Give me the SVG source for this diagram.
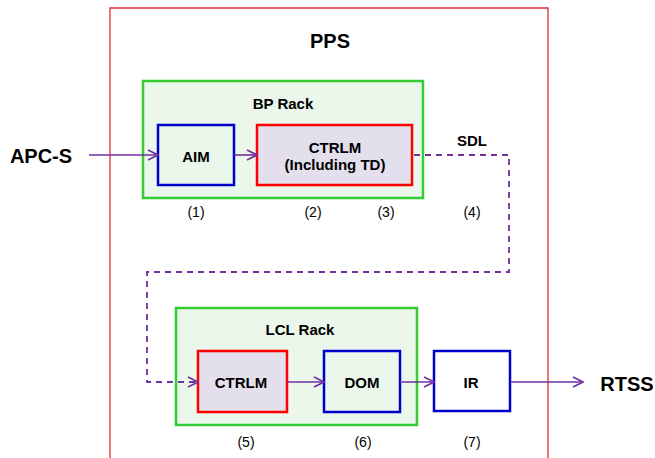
<svg xmlns="http://www.w3.org/2000/svg" width="655" height="458" viewBox="0 0 655 458">
<style>
text{font-family:"Liberation Sans",Arial,sans-serif;fill:#000;text-anchor:middle}
.b{font-weight:bold;font-size:15px}
.n{font-size:14px}
.big{font-weight:bold;font-size:20px}
.rack{fill:#EAF7EA;stroke:#33CC33;stroke-width:2.5}
.blue{fill:#EAF7EA;stroke:#0000CC;stroke-width:2.5}
.red{fill:#E4DFEC;stroke:#FF0000;stroke-width:2.5}
.c{fill:none;stroke:#7030A0;stroke-width:1.6}
.d{stroke-dasharray:6,5;stroke-width:1.8}
</style>
<defs>
<marker id="ah" viewBox="0 0 12 12" refX="11" refY="6" markerWidth="12" markerHeight="12" markerUnits="userSpaceOnUse" orient="auto">
<path d="M1,1 L11,6 L1,11" fill="none" stroke="#7030A0" stroke-width="1.6"/>
</marker>
</defs>
<rect width="655" height="458" fill="#fff"/>
<g id="pps">
<path d="M110,470 V8 H548 V470" fill="none" stroke="#E03030" stroke-width="1.3"/>
<text x="330" y="48" class="big">PPS</text>
</g>
<g id="bp-rack">
<rect class="rack" x="143" y="81" width="280" height="117"/>
<text class="b" x="283" y="109">BP Rack</text>
</g>
<g id="aim">
<rect class="blue" x="158" y="125" width="76" height="60"/>
<text class="b" x="196" y="162">AIM</text>
</g>
<g id="ctrlm1">
<rect class="red" x="257" y="125" width="155" height="60"/>
<text class="b" x="335" y="153">CTRLM</text>
<text class="b" x="335" y="170">(Including TD)</text>
</g>
<g id="lcl-rack">
<rect class="rack" x="176" y="308" width="241" height="117"/>
<text class="b" x="300" y="335">LCL Rack</text>
</g>
<g id="ctrlm2">
<rect class="red" x="198" y="351" width="89" height="61"/>
<text class="b" x="241" y="388">CTRLM</text>
</g>
<g id="dom">
<rect class="blue" x="324" y="351" width="76" height="61"/>
<text class="b" x="362" y="388">DOM</text>
</g>
<g id="ir">
<rect x="434" y="351" width="76" height="60" fill="#fff" stroke="#0000CC" stroke-width="2.5"/>
<text class="b" x="471" y="388">IR</text>
</g>
<g id="apcs"><text class="big" x="41" y="163">APC-S</text></g>
<g id="rtss"><text class="big" x="627" y="391">RTSS</text></g>
<g id="labels">
<text class="b" x="472" y="146">SDL</text>
<text class="n" x="196" y="217">(1)</text>
<text class="n" x="313" y="217">(2)</text>
<text class="n" x="386" y="217">(3)</text>
<text class="n" x="472" y="217">(4)</text>
<text class="n" x="246" y="447">(5)</text>
<text class="n" x="363" y="447">(6)</text>
<text class="n" x="472" y="447">(7)</text>
</g>
<g id="connectors">
<line class="c" x1="89" y1="155" x2="158" y2="155" marker-end="url(#ah)"/>
<line class="c" x1="234" y1="155" x2="257" y2="155" marker-end="url(#ah)"/>
<path class="c d" d="M414,155 H509 V272 H147 V382 H198" marker-end="url(#ah)"/>
<line class="c" x1="287" y1="382" x2="324" y2="382" marker-end="url(#ah)"/>
<line class="c" x1="400" y1="382" x2="434" y2="382" marker-end="url(#ah)"/>
<line class="c" x1="510" y1="382" x2="583" y2="382" marker-end="url(#ah)"/>
</g>
</svg>
